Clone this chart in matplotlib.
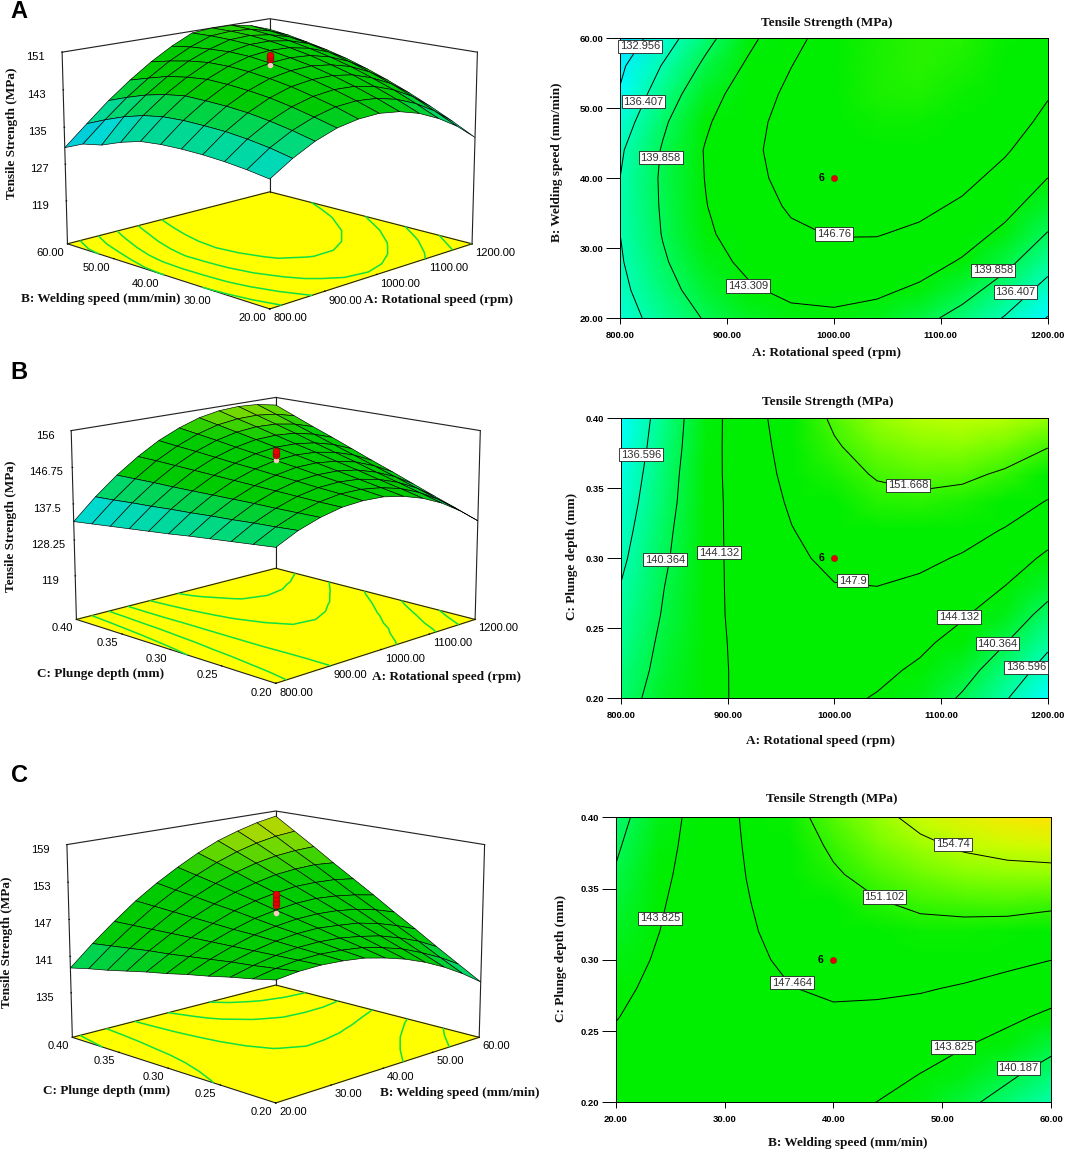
import matplotlib
matplotlib.use("Agg")
import matplotlib.pyplot as plt
import numpy as np
from matplotlib.colors import LinearSegmentedColormap, Normalize

W, H = 1065, 1151

# factor levels
rotational_speed = [800, 840, 880, 920, 960, 1000, 1040, 1080, 1120, 1160, 1200]
welding_speed = [20, 24, 28, 32, 36, 40, 44, 48, 52, 56, 60]
plunge_depth = [0.20, 0.22, 0.24, 0.26, 0.28, 0.30, 0.32, 0.34, 0.36, 0.38, 0.40]

# tensile strength, rows follow the y factor
strength_ab = [
    [134.9, 137.8, 140.1, 141.7, 142.5, 142.7, 142.1, 140.8, 138.8, 136.2, 132.8],
    [135.6, 138.8, 141.2, 142.9, 144.0, 144.3, 143.9, 142.8, 141.0, 138.5, 135.3],
    [136.1, 139.5, 142.1, 144.0, 145.2, 145.7, 145.5, 144.6, 143.0, 140.7, 137.6],
    [136.4, 140.0, 142.8, 144.9, 146.3, 146.9, 146.9, 146.2, 144.7, 142.6, 139.7],
    [136.5, 140.2, 143.2, 145.5, 147.1, 147.9, 148.1, 147.5, 146.3, 144.3, 141.6],
    [136.4, 140.3, 143.4, 145.9, 147.7, 148.7, 149.0, 148.7, 147.6, 145.8, 143.3],
    [136.0, 140.1, 143.5, 146.1, 148.0, 149.3, 149.8, 149.6, 148.7, 147.1, 144.8],
    [134.8, 139.4, 142.9, 145.7, 148.0, 149.5, 150.3, 150.3, 149.6, 148.2, 146.0],
    [133.2, 138.2, 141.9, 145.0, 147.5, 149.3, 150.6, 150.8, 150.2, 149.0, 147.0],
    [132.4, 136.6, 140.5, 143.8, 146.7, 149.0, 150.7, 151.0, 150.7, 149.6, 147.9],
    [130.6, 134.8, 138.9, 142.5, 145.7, 148.4, 150.6, 151.0, 150.9, 150.1, 148.5],
]
strength_ac = [
    [139.1, 141.7, 143.5, 144.7, 145.1, 144.9, 143.9, 142.3, 140.0, 136.9, 133.2],
    [138.5, 141.3, 143.4, 144.8, 145.6, 145.6, 144.9, 143.6, 141.5, 138.7, 135.3],
    [137.9, 141.0, 143.3, 145.0, 146.0, 146.3, 145.9, 144.8, 143.0, 140.5, 137.3],
    [137.3, 140.6, 143.3, 145.2, 146.5, 147.0, 146.9, 146.1, 144.5, 142.3, 139.4],
    [136.7, 140.3, 143.2, 145.4, 146.9, 147.8, 147.9, 147.3, 146.1, 144.1, 141.5],
    [136.0, 139.9, 143.1, 145.6, 147.4, 148.5, 148.9, 148.6, 147.6, 145.9, 143.5],
    [135.4, 139.6, 143.0, 145.8, 147.8, 149.2, 149.9, 149.8, 149.1, 147.7, 145.6],
    [134.8, 139.2, 142.9, 146.0, 148.3, 149.9, 150.9, 151.1, 150.7, 149.5, 147.7],
    [134.2, 138.9, 142.9, 146.2, 148.8, 150.7, 151.9, 152.4, 152.2, 151.3, 149.7],
    [133.6, 138.5, 142.8, 146.4, 149.2, 151.4, 152.9, 153.6, 153.7, 153.1, 151.8],
    [133.0, 138.2, 142.7, 146.5, 149.7, 152.1, 153.9, 154.9, 155.2, 154.9, 153.9],
]
strength_bc = [
    [145.7, 146.1, 146.2, 146.0, 145.6, 144.8, 143.8, 142.5, 140.9, 139.0, 136.8],
    [145.0, 145.7, 146.1, 146.2, 146.0, 145.6, 144.8, 143.8, 142.4, 140.8, 138.9],
    [144.4, 145.3, 146.0, 146.4, 146.5, 146.3, 145.8, 145.1, 144.0, 142.7, 141.0],
    [143.7, 145.0, 145.9, 146.6, 147.0, 147.1, 146.8, 146.4, 145.6, 144.5, 143.2],
    [143.1, 144.6, 145.8, 146.8, 147.4, 147.8, 147.9, 147.7, 147.2, 146.4, 145.3],
    [142.4, 144.2, 145.7, 146.9, 147.9, 148.5, 148.9, 149.0, 148.7, 148.2, 147.5],
    [141.8, 143.8, 145.6, 147.1, 148.4, 149.3, 149.9, 150.3, 150.3, 150.1, 149.6],
    [141.1, 143.5, 145.5, 147.3, 148.8, 150.0, 150.9, 151.6, 151.9, 152.0, 151.7],
    [140.4, 143.1, 145.4, 147.5, 149.3, 150.8, 152.0, 152.9, 153.5, 153.8, 153.9],
    [139.8, 142.7, 145.3, 147.7, 149.7, 151.5, 153.0, 154.2, 155.1, 155.7, 156.0],
    [139.1, 142.3, 145.2, 147.9, 150.2, 152.2, 154.0, 155.5, 156.6, 157.5, 158.1],
]

levels_ab = [132.956, 136.407, 139.858, 143.309, 146.76]
levels_ac = [136.596, 140.364, 144.132, 147.9, 151.668]
levels_bc = [140.187, 143.825, 147.464, 151.102, 154.74]

labels_ab = [(819, 58.8, "132.956"), (822, 50.9, "136.407"), (838, 42.9, "139.858"),
             (1000, 32.0, "146.76"), (920, 24.6, "143.309"), (1149, 26.8, "139.858"),
             (1170, 23.7, "136.407")]
labels_ac = [(819, 0.374, "136.596"), (841, 0.299, "140.364"), (892, 0.304, "144.132"),
             (1017, 0.284, "147.9"), (1069, 0.352, "151.668"), (1117, 0.258, "144.132"),
             (1153, 0.239, "140.364"), (1180, 0.222, "136.596")]
labels_bc = [(51.0, 0.381, "154.74"), (44.7, 0.344, "151.102"), (36.2, 0.284, "147.464"),
             (24.1, 0.329, "143.825"), (51.0, 0.239, "143.825"), (57.0, 0.224, "140.187")]

# replicated centre points on the 3D plots
centre_ab = [149.6, 150.0, 150.4]
centre_ac = [149.9, 150.4, 150.9]
centre_bc = [149.3, 149.9, 150.5, 151.1]

ticks_a = [800, 900, 1000, 1100, 1200]
ticks_b = [20, 30, 40, 50, 60]
ticks_c = [0.20, 0.25, 0.30, 0.35, 0.40]

zticks_ab = [119, 127, 135, 143, 151]
zticks_ac = [119, 128.25, 137.5, 146.75, 156]
zticks_bc = [135, 141, 147, 153, 159]
zlabels_ac = ["119", "128.25", "137.5", "146.75", "156"]

TITLE = "Tensile Strength (MPa)"
LABEL_A = "A: Rotational speed (rpm)"
LABEL_B = "B: Welding speed (mm/min)"
LABEL_C = "C: Plunge depth (mm)"

SERIF = "Liberation Serif"
SANS = "Liberation Sans"

cmap = LinearSegmentedColormap.from_list("design", [
    (0.00, "#00a0ff"), (5 / 34, "#00ffff"), (10 / 34, "#00ff8c"), (15 / 34, "#00ee00"),
    (22 / 34, "#00ee00"), (25.5 / 34, "#82ff00"), (27.5 / 34, "#c8ff00"), (30 / 34, "#ffe600"),
    (1.00, "#ff9000"),
])
norm = Normalize(128, 162)

fig = plt.figure(figsize=(W / 100, H / 100), dpi=100)


def px_text(x, y, s, **kw):
    fig.text(x / W, 1 - y / H, s, ha="center", va="center", **kw)


def surface(cx_px, cy_px, zoom, x, y, z, levels, xticks, yticks, zticks, zlim, centre, zlabels=None):
    size = 500
    ax = fig.add_axes([(cx_px - size / 2) / W, 1 - (cy_px + size / 2) / H, size / W, size / H],
                      projection="3d", computed_zorder=False)
    ax.patch.set_alpha(0)
    X, Y = np.meshgrid(x, y)
    Z = np.array(z)
    x0, x1, y0, y1 = x[0], x[-1], y[0], y[-1]
    ax.set_xlim(x0, x1)
    ax.set_ylim(y0, y1)
    ax.set_zlim(*zlim)

    # wall frame
    frame = dict(color="#202020", lw=0.8, zorder=0)
    z0, z1 = zlim
    ax.plot([x1, x1], [y0, y0], [z0, z1], **frame)
    ax.plot([x1, x1], [y1, y1], [z0, z1], **frame)
    ax.plot([x0, x1, x1], [y1, y1, y0], [z1, z1, z1], **frame)
    ax.plot([x0, x1, x1], [y1, y1, y0], [z0, z0, z0], **frame)

    ax.contour(X, Y, Z, levels=levels, zdir="z", offset=z0, colors="#10e040",
               linewidths=1.1, zorder=1)
    # mesh is coarser than the original, so the facets are darkened a little
    faces = cmap(norm(Z)) * np.array([0.85, 0.85, 0.85, 1.0])
    ax.plot_surface(X, Y, Z, facecolors=faces, rstride=1, cstride=1, edgecolor="black",
                    linewidth=0.45, shade=False, zorder=2)
    cx, cy = x[len(x) // 2], y[len(y) // 2]
    ax.plot([cx] * len(centre), [cy] * len(centre), centre, "o", color="#e80000", ms=5,
            mec="#700000", mew=0.3, zorder=4)
    ax.plot([cx], [cy], [centre[0] - 1.3], "o", color="#ffc8c8", ms=3, zorder=3)

    ax.set_xticks(xticks, ["%.2f" % t for t in xticks])
    ax.set_yticks(yticks, ["%.2f" % t for t in yticks])
    ax.set_zticks(zticks, zlabels if zlabels else [str(t) for t in zticks])
    for axis in (ax.xaxis, ax.yaxis, ax.zaxis):
        axis.pane.set_facecolor("white")
        axis._axinfo["grid"]["linewidth"] = 0
        axis._axinfo["tick"]["inward_factor"] = 0.0
        axis._axinfo["tick"]["outward_factor"] = 0.02
        axis.line.set_color("#202020")
        axis.line.set_linewidth(0.8)
    ax.zaxis.set_pane_color("#ffff00")
    ax.grid(False)
    ax.zaxis.set_ticks_position("upper")
    ax.tick_params(labelsize=8, pad=-5)
    ax.tick_params(axis="z", pad=4)
    for t in ax.get_xticklabels() + ax.get_yticklabels() + ax.get_zticklabels():
        t.set_fontfamily(SANS)
    for t in ax.get_xticklabels():
        t.set_ha("left")
    for t in ax.get_yticklabels():
        t.set_ha("right")
    ax.set_proj_type("persp", focal_length=0.65)
    ax.view_init(elev=13.5, azim=-135)
    ax.set_box_aspect((1, 1, 0.68), zoom=zoom)
    return ax


def contour(rect, x, y, z, levels, labels, xticks, yticks, xfmt):
    left, top, right, bottom = rect
    ax = fig.add_axes([left / W, 1 - bottom / H, (right - left) / W, (bottom - top) / H])
    ax.pcolormesh(x, y, z, cmap=cmap, norm=norm, shading="gouraud")
    ax.contour(x, y, z, levels=levels, colors="black", linewidths=0.7)
    for lx, ly, s in labels:
        ax.text(lx, ly, s, ha="center", va="center", fontsize=8, family=SANS, color="#303030",
                bbox=dict(fc="white", ec="#202020", lw=0.6, pad=1.3))
    cx, cy = x[len(x) // 2], y[len(y) // 2]
    ax.plot([cx], [cy], "o", color="#e80000", ms=4.5, mec="#a00000", mew=0.3)
    ax.annotate("6", (cx, cy), xytext=(-9, 0), textcoords="offset points", ha="center",
                va="center", fontsize=7.5, fontweight="bold", family=SANS)
    ax.set_xlim(x[0], x[-1])
    ax.set_ylim(y[0], y[-1])
    ax.set_xticks(xticks, [xfmt % t for t in xticks])
    ax.set_yticks(yticks, ["%.2f" % t for t in yticks])
    ax.tick_params(axis="y", length=10, width=0.7, pad=2, labelsize=6.8)
    ax.tick_params(axis="x", length=4, width=0.7, pad=5, labelsize=6.8)
    for t in ax.get_xticklabels() + ax.get_yticklabels():
        t.set_fontfamily(SANS)
        t.set_fontweight("bold")
    for s in ax.spines.values():
        s.set_linewidth(0.7)
    return ax


# left column, 3D surfaces
surface(263, 156, 0.883, rotational_speed, welding_speed, strength_ab, levels_ab,
        ticks_a, ticks_b, zticks_ab, (109.5, 151), centre_ab)
surface(269, 533, 0.87, rotational_speed, plunge_depth, strength_ac, levels_ac,
        ticks_a, ticks_c, zticks_ac, (107.6, 156), centre_ac, zlabels_ac)
surface(269, 949, 0.888, welding_speed, plunge_depth, strength_bc, levels_bc,
        ticks_b, ticks_c, zticks_bc, (127.6, 159), centre_bc)

# right column, contour maps
contour((620, 38, 1047.7, 318), rotational_speed, welding_speed, strength_ab, levels_ab,
        labels_ab, ticks_a, ticks_b, "%.2f")
contour((621, 418.3, 1047.7, 698.3), rotational_speed, plunge_depth, strength_ac, levels_ac,
        labels_ac, ticks_a, ticks_c, "%.2f")
contour((615.7, 817.3, 1051, 1102.3), welding_speed, plunge_depth, strength_bc, levels_bc,
        labels_bc, ticks_b, ticks_c, "%.2f")

bold = dict(family=SERIF, fontweight="bold", fontsize=9.5, color="#101010")

# panel letters
for s, y in (("A", 12), ("B", 373), ("C", 776)):
    px_text(19, y, s, family=SANS, fontweight="bold", fontsize=17)

# titles and axis labels of the contour maps
px_text(827, 23, TITLE, **bold)
px_text(828, 402, TITLE, **bold)
px_text(832, 799, TITLE, **bold)
px_text(827, 353, LABEL_A, **bold)
px_text(820, 741, LABEL_A, **bold)
px_text(848, 1143, LABEL_B, **bold)
px_text(557, 162, LABEL_B, rotation=90, **bold)
px_text(572, 556, LABEL_C, rotation=90, **bold)
px_text(561, 958, LABEL_C, rotation=90, **bold)

# axis labels of the surfaces
px_text(101, 299, LABEL_B, **bold)
px_text(438, 300, LABEL_A, **bold)
px_text(101, 674, LABEL_C, **bold)
px_text(447, 677, LABEL_A, **bold)
px_text(107, 1091, LABEL_C, **bold)
px_text(460, 1093, LABEL_B, **bold)
px_text(12, 133, TITLE, rotation=90, **bold)
px_text(11, 526, TITLE, rotation=90, **bold)
px_text(7, 942, TITLE, rotation=90, **bold)

fig.savefig("out.png", dpi=100)
